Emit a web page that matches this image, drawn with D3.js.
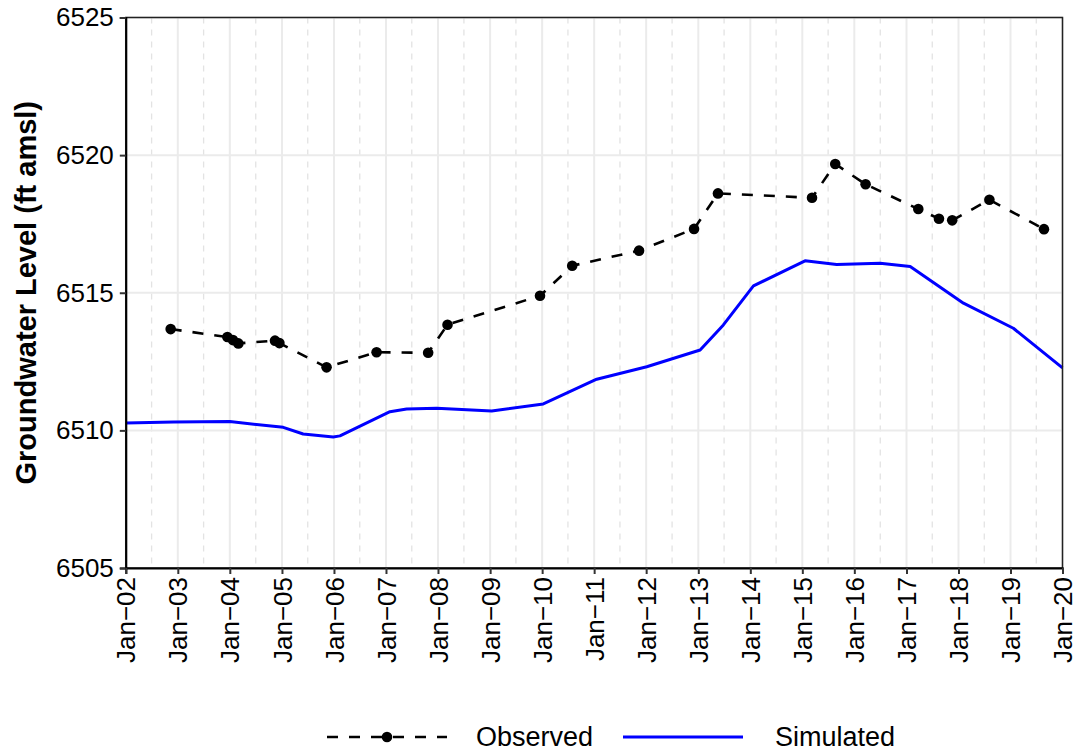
<!DOCTYPE html>
<html>
<head>
<meta charset="utf-8">
<script src="https://cdn.jsdelivr.net/npm/d3@7"></script>
<style>
  html, body { margin: 0; padding: 0; background: #fff; }
  svg { display: block; font-family: "Liberation Sans", Arial, sans-serif; }
</style>
</head>
<body>
<svg id="chart" width="1078" height="751"></svg>
<script>
// ---- data ----
const observedDates = ["2002-11-12","2003-12-15","2004-01-23","2004-03-01","2004-11-13","2004-12-14",
  "2005-11-10","2006-10-27","2007-10-24","2008-03-08","2009-12-17","2010-07-31","2011-11-12",
  "2012-12-02","2013-05-19","2015-03-10","2015-08-20","2016-03-20","2017-03-25","2017-08-17",
  "2017-11-18","2018-08-06","2019-08-24"];
const observedValues = [6513.68,6513.39,6513.28,6513.16,6513.26,6513.17,
  6512.29,6512.84,6512.82,6513.84,6514.89,6515.98,6516.53,
  6517.32,6518.61,6518.45,6519.68,6518.94,6518.04,6517.69,
  6517.63,6518.38,6517.31];
const simulatedDates = ["2002-01-01","2002-12-01","2004-01-01","2005-01-10","2005-05-30","2005-12-27",
  "2006-02-12","2007-01-29","2007-05-26","2007-12-23","2009-01-12","2010-01-09","2011-01-19",
  "2012-01-05","2013-01-14","2013-06-26","2014-01-23","2015-01-20","2015-08-30","2016-06-30",
  "2017-01-27","2018-02-05","2019-01-21","2020-01-01"];
const simulatedValues = [6510.27,6510.30,6510.32,6510.11,6509.87,6509.76,
  6509.80,6510.68,6510.78,6510.80,6510.70,6510.96,6511.86,
  6512.31,6512.92,6513.83,6515.25,6516.16,6516.03,6516.07,
  6515.95,6514.62,6513.71,6512.27];
const yTicks = [6505, 6510, 6515, 6520, 6525];
const seriesNames = ["Observed", "Simulated"];
const xTickFormat = "%b\u2212%y";

// ---- layout ----
const svg = d3.select("#chart");
const L = 125.8, R = 1062.5, T = 17.5, B = 568;
const parse = d3.timeParse("%Y-%m-%d");
const x = d3.scaleTime().domain([parse("2002-01-01"), parse("2020-01-01")]).range([L, R]);
const y = d3.scaleLinear().domain([6505, 6525]).range([B, T]);

const obs = observedDates.map((d, i) => ({ date: parse(d), value: observedValues[i] }));
const sim = simulatedDates.map((d, i) => ({ date: parse(d), value: simulatedValues[i] }));

const majorX = d3.timeYear.range(parse("2002-01-01"), parse("2020-01-02"));
const minorX = majorX.slice(0, -1).map(d => d3.timeMonth.offset(d, 6));

// gridlines
const grid = svg.append("g");
grid.selectAll(".minx").data(minorX).join("line")
  .attr("x1", d => x(d)).attr("x2", d => x(d)).attr("y1", T).attr("y2", B)
  .attr("stroke", "#e3e3e3").attr("stroke-width", 1.3).attr("stroke-dasharray", "6,6");
grid.selectAll(".majx").data(majorX).join("line")
  .attr("x1", d => x(d)).attr("x2", d => x(d)).attr("y1", T).attr("y2", B)
  .attr("stroke", "#ebebeb").attr("stroke-width", 2);
grid.selectAll(".majy").data(yTicks).join("line")
  .attr("x1", L).attr("x2", R).attr("y1", d => y(d)).attr("y2", d => y(d))
  .attr("stroke", "#ebebeb").attr("stroke-width", 2);

// simulated line
svg.append("path").datum(sim)
  .attr("fill", "none").attr("stroke", "#0000ff").attr("stroke-width", 3)
  .attr("stroke-linejoin", "round")
  .attr("d", d3.line().x(d => x(d.date)).y(d => y(d.value)));

// observed line
svg.append("path").datum(obs)
  .attr("fill", "none").attr("stroke", "#000").attr("stroke-width", 2.6)
  .attr("stroke-dasharray", "11,11")
  .attr("d", d3.line().x(d => x(d.date)).y(d => y(d.value)));
svg.selectAll(".pt").data(obs).join("circle")
  .attr("cx", d => x(d.date)).attr("cy", d => y(d.value)).attr("r", 5.3).attr("fill", "#000");

// panel border
svg.append("rect").attr("x", L).attr("y", T).attr("width", R - L).attr("height", B - T)
  .attr("fill", "none").attr("stroke", "#222").attr("stroke-width", 1.5);

// axes
const yAxis = d3.axisLeft(y).tickValues(yTicks).tickSize(6).tickPadding(6).tickFormat(d3.format("d"));
const gy = svg.append("g").attr("transform", `translate(${L},0)`).call(yAxis);
gy.select(".domain").attr("stroke", "#000").attr("stroke-width", 2);
gy.selectAll(".tick line").attr("stroke", "#333").attr("stroke-width", 2);
gy.selectAll(".tick text").attr("font-size", 26).attr("fill", "#000")
  .attr("font-family", "Liberation Sans, Arial, sans-serif");

const xAxis = d3.axisBottom(x).tickValues(majorX).tickSize(6).tickFormat(d3.timeFormat(xTickFormat));
const gx = svg.append("g").attr("transform", `translate(0,${B})`).call(xAxis);
gx.select(".domain").attr("stroke", "#000").attr("stroke-width", 2);
gx.selectAll(".tick line").attr("stroke", "#333").attr("stroke-width", 2);
gx.selectAll(".tick text").attr("font-size", 26).attr("fill", "#000")
  .attr("font-family", "Liberation Sans, Arial, sans-serif")
  .attr("transform", "rotate(-90)")
  .attr("text-anchor", "end")
  .attr("x", -9).attr("y", 0).attr("dy", "0.35em");

// y title
svg.append("text")
  .attr("transform", `translate(36,${(T + B) / 2}) rotate(-90)`)
  .attr("text-anchor", "middle")
  .attr("font-size", 29).attr("font-weight", "bold").attr("fill", "#000")
  .text("Groundwater Level (ft amsl)");

// legend
const ly = 737;
const lg = svg.append("g");
lg.append("line").attr("x1", 327).attr("x2", 447).attr("y1", ly).attr("y2", ly)
  .attr("stroke", "#000").attr("stroke-width", 2.6).attr("stroke-dasharray", "11,11");
lg.append("circle").attr("cx", 387).attr("cy", ly).attr("r", 5.3).attr("fill", "#000");
lg.append("text").attr("x", 476).attr("y", ly).attr("dy", "0.35em")
  .attr("font-size", 27).attr("fill", "#000").text(seriesNames[0]);
lg.append("line").attr("x1", 623).attr("x2", 743).attr("y1", ly).attr("y2", ly)
  .attr("stroke", "#0000ff").attr("stroke-width", 3);
lg.append("text").attr("x", 775).attr("y", ly).attr("dy", "0.35em")
  .attr("font-size", 27).attr("fill", "#000").text(seriesNames[1]);
</script>
</body>
</html>
